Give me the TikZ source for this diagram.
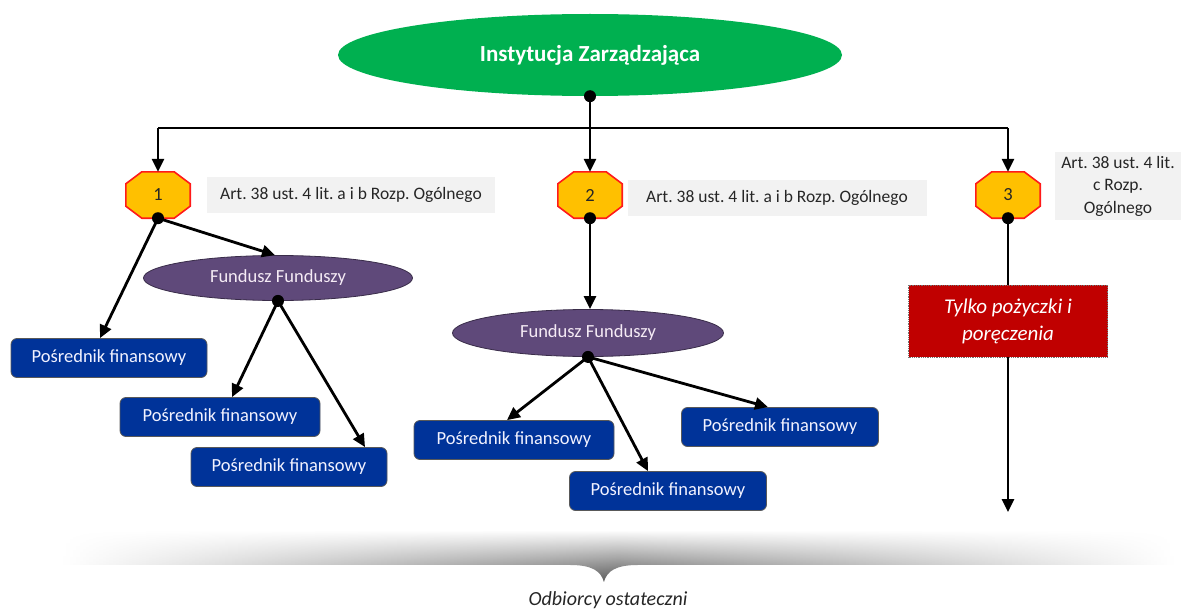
\documentclass[tikz,border=0pt]{standalone}
\usepackage{fontspec}
\setmainfont{Carlito}
\usetikzlibrary{shapes.geometric,arrows.meta,calc,fadings}
\frenchspacing

\definecolor{izgreen}{HTML}{00B050}
\definecolor{octfill}{HTML}{FFC000}
\definecolor{octline}{HTML}{FF1A1A}
\definecolor{infogray}{HTML}{F2F2F2}
\definecolor{fundpurple}{HTML}{5F497A}
\definecolor{pfblue}{HTML}{003399}
\definecolor{loanred}{HTML}{C00000}

\tikzset{
  txt/.style={font=\fontsize{18.5}{22}\selectfont},
  conn/.style={line width=2.8pt, black},
  arr/.style={conn, -{Triangle[length=13pt,width=12pt]}},
  dotmark/.style={circle, fill=black, inner sep=0pt, minimum size=12pt},
  octbox/.style={rectangle, minimum width=64pt, minimum height=46pt, inner sep=0pt, txt, text=black!85},
  infobox/.style={rectangle, fill=infogray, inner sep=0pt, txt, text=black!85, font=\fontsize{17.5}{22}\selectfont},
  fundbox/.style={ellipse, fill=fundpurple, draw=fundpurple!60!black, line width=0.8pt, inner sep=0pt, txt, text=white!92!violet},
  pfbox/.style={rectangle, rounded corners=6pt, fill=pfblue, draw=black!65, line width=0.8pt, minimum width=196pt, minimum height=39pt, inner sep=0pt, txt, text=white!95!blue}
}

% chamfered octagon drawn around an invisible rectangular node
\newcommand{\octagonaround}[1]{%
  \draw[fill=octfill, draw=octline, line width=1.6pt]
    ($(#1.north west)+(16,0)$) -- ($(#1.north east)+(-16,0)$) --
    ($(#1.north east)+(0,12)$) -- ($(#1.south east)+(0,-12)$) --
    ($(#1.south east)+(-16,0)$) -- ($(#1.south west)+(16,0)$) --
    ($(#1.south west)+(0,-12)$) -- ($(#1.north west)+(0,12)$) -- cycle;}

\begin{document}
\begin{tikzpicture}[x=1pt, y=-1pt]
\useasboundingbox (0,0) rectangle (1181,610);

% managing authority
\node[ellipse, fill=izgreen, minimum width=504pt, minimum height=82pt, inner sep=0pt,
      text=white, font=\bfseries\fontsize{23}{26}\selectfont] (iz) at (590,55) {Instytucja Zarządzająca};

% three options
\node[octbox] (oct1) at (158,195) {};
\node[octbox] (oct2) at (590,195) {};
\node[octbox] (oct3) at (1008,195) {};
\octagonaround{oct1}
\octagonaround{oct2}
\octagonaround{oct3}
\node[txt, text=black!85] at (oct1) {1};
\node[txt, text=black!85] at (oct2) {2};
\node[txt, text=black!85] at (oct3) {3};

% legal references
\node[infobox, minimum width=288pt, minimum height=36pt] (info1) at (351,195) {Art. 38 ust. 4 lit. a i b Rozp. Ogólnego};
\node[infobox, minimum width=299pt, minimum height=36pt] (info2) at (777,198) {Art. 38 ust. 4 lit. a i b Rozp. Ogólnego};
\node[infobox, minimum width=127pt, minimum height=68pt, align=center,
      font=\fontsize{17.5}{22.5}\selectfont] (info3) at (1118,186) {Art. 38 ust. 4 lit.\\c Rozp.\\Ogólnego};

% funds of funds
\node[fundbox, minimum width=269pt, minimum height=45pt] (ff1) at (278,278) {Fundusz Funduszy};
\node[fundbox, minimum width=271pt, minimum height=47pt] (ff2) at (588,333) {Fundusz Funduszy};

% financial intermediaries
\node[pfbox] (pfA) at (109,358) {Pośrednik finansowy};
\node[pfbox, minimum width=200pt] (pfB) at (220,417) {Pośrednik finansowy};
\node[pfbox] (pfC) at (289,467) {Pośrednik finansowy};
\node[pfbox, minimum width=200pt] (pfD) at (514,440) {Pośrednik finansowy};
\node[pfbox, minimum width=197pt] (pfE) at (668,491) {Pośrednik finansowy};
\node[pfbox, minimum width=197pt] (pfF) at (780,427) {Pośrednik finansowy};

% loans and guarantees only
\node[rectangle, fill=loanred, draw=black!55, densely dotted, line width=0.8pt,
      minimum width=199pt, minimum height=72pt, align=center, text=white,
      font=\itshape\fontsize{21}{27}\selectfont] (loan) at (1008,321) {Tylko pożyczki i\\poręczenia};
\coordinate (loanend) at (1008,512);

% connectors from the managing authority
\coordinate (bus) at (590,128);
\draw[conn] (iz.south) -- (bus);
\draw[conn] (oct1.north |- bus) -- (oct3.north |- bus);
\draw[arr] (oct1.north |- bus) -- (oct1.north);
\draw[arr] (bus) -- (oct2.north);
\draw[arr] (oct3.north |- bus) -- (oct3.north);

% option 1
\draw[arr] (oct1.south) -- ($(pfA.north)+(-9,0)$);
\draw[arr] (oct1.south) -- ($(ff1.north)+(-3,0)$);
\draw[arr] (ff1.south) -- ($(pfB.north)+(12,0)$);
\draw[arr] (ff1.south) -- ($(pfC.north)+(76,0)$);

% option 2
\draw[arr] (oct2.south) -- (ff2.north -| oct2.south);
\draw[arr] (ff2.south) -- ($(pfD.north)+(-7,0)$);
\draw[arr] (ff2.south) -- ($(pfE.north)+(-20,0)$);
\draw[arr] (ff2.south) -- ($(pfF.north)+(-12,0)$);

% option 3
\draw[conn] (oct3.south) -- (loan.north);
\draw[arr] (loan.south) -- (loanend);

% junction dots
\foreach \p in {iz.south, oct1.south, oct2.south, oct3.south, ff1.south, ff2.south}
  \node[dotmark] at (\p) {};

% final recipients: shaded brace
\shade[left color=white, right color=white, middle color=black!66, path fading=north]
  (62,530) -- (1178,530) -- (1178,565) -- (640,565)
  .. controls (618,565) and (609,571) .. (606,582)
  .. controls (603,571) and (594,565) .. (572,565) -- (62,565) -- cycle;
\node[font=\itshape\fontsize{20}{24}\selectfont, text=black!85] (odb) at (608,600) {Odbiorcy ostateczni};
\end{tikzpicture}
\end{document}
